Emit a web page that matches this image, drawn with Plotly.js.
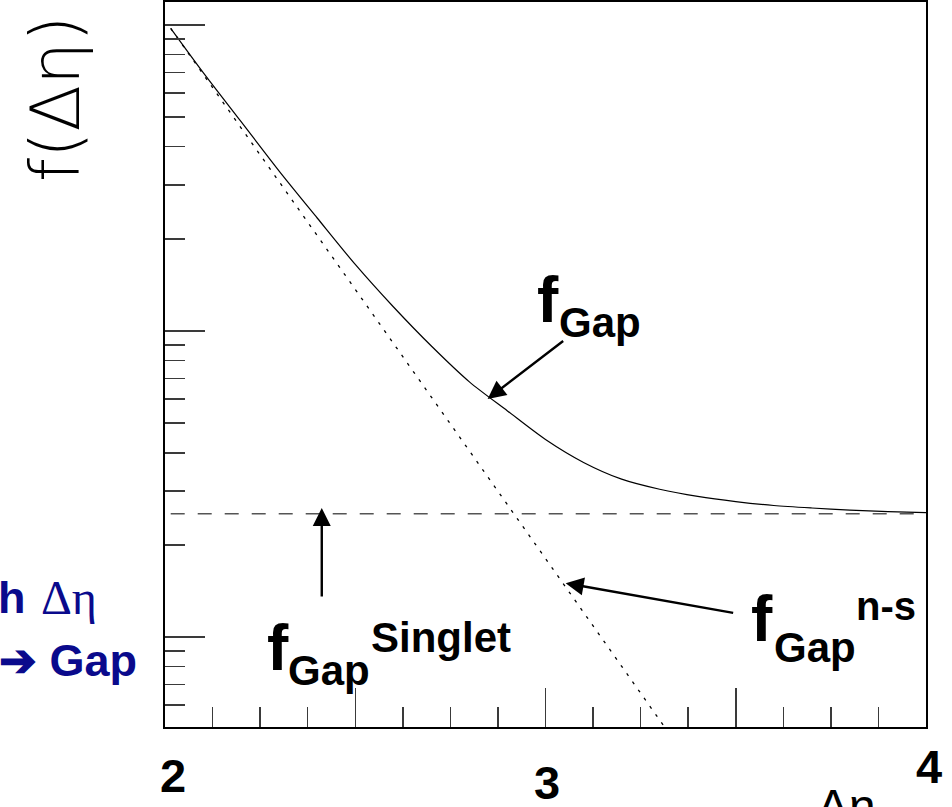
<!DOCTYPE html>
<html>
<head>
<meta charset="utf-8">
<script src="https://cdn.plot.ly/plotly-3.0.1.min.js"></script>
<style>
  html, body { margin: 0; padding: 0; background: #fff; }
  #chart { width: 952px; height: 807px; }
</style>
</head>
<body>
<div id="chart"></div>
<script>
// f_Gap (solid)
const xGap = [2.015, 2.1, 2.2, 2.3, 2.4, 2.5, 2.6, 2.7, 2.8, 2.9, 3.0, 3.1, 3.2, 3.3, 3.4, 3.5, 3.6, 3.7, 3.8, 3.9, 4.0];
const fGap = [0.975, 0.70, 0.483, 0.333, 0.234, 0.165, 0.120, 0.0893, 0.0682, 0.0548, 0.0442, 0.0372, 0.0328, 0.0304, 0.0288, 0.0277, 0.0269, 0.0264, 0.0260, 0.0257, 0.0255];

// f_Gap^n-s (dotted)
const xNs = [2.015, 2.25, 2.5, 2.75, 3.0, 3.313];
const fNs = [0.975, 0.376, 0.137, 0.0497, 0.0180, 0.00508];

// f_Gap^Singlet (dashed)
const xSinglet = [2.015, 4.0];
const fSinglet = [0.0253, 0.0253];

// x tick labels
const xTickVals = [2, 3, 4];
const xTickText = ['2', '3', '4'];

// arrow tips [x, y] for the three labels
const tipGap = [2.848, 0.0600];
const tipSinglet = [2.412, 0.0264];
const tipNs = [3.053, 0.0150];

const W = 952, H = 807;
const M = { l: 165, r: 26, t: 2, b: 80 };
const pw = W - M.l - M.r, ph = H - M.t - M.b;

// place a text by pixel position (left edge / baseline)
function txt(text, x, base, size, opts) {
    opts = opts || {};
    return {
        xref: 'paper', yref: 'paper',
        x: (x - M.l) / pw,
        y: (H - M.b - (base - 0.35 * size)) / ph,
        xanchor: opts.xanchor || 'left', yanchor: 'middle',
        text: text, showarrow: false,
        textangle: opts.angle || 0,
        font: {
            family: opts.family || 'Liberation Sans, Arial, sans-serif',
            size: size,
            color: opts.color || '#000',
            weight: opts.weight || 700
        }
    };
}

function arrow(tip, ax, ay) {
    return {
        x: tip[0], y: Math.log10(tip[1]), xref: 'x', yref: 'y',
        ax: ax, ay: ay, text: '', showarrow: true,
        arrowhead: 2, arrowsize: 1.5, arrowwidth: 2.4, arrowcolor: '#000', standoff: 0
    };
}

const traces = [
    {
        x: xGap, y: fGap, type: 'scatter', mode: 'lines', name: 'f_Gap',
        line: { color: '#000', width: 1.2, shape: 'spline', smoothing: 0.8 }
    },
    {
        x: xNs, y: fNs, type: 'scatter', mode: 'lines', name: 'f_Gap^n-s',
        line: { color: '#000', width: 1.3, dash: '3px,7px' }
    },
    {
        x: xSinglet, y: fSinglet, type: 'scatter', mode: 'lines', name: 'f_Gap^Singlet',
        line: { color: '#555', width: 1.5, dash: '14px,13px' }
    }
];

const blue = '#0a0a8c';

const annotations = [
    // y title, rotated
    {
        xref: 'paper', yref: 'paper', x: (55 - M.l) / pw, y: (H - M.b - 99) / ph,
        xanchor: 'center', yanchor: 'middle', textangle: -90, showarrow: false,
        text: 'f(Δη)',
        font: { family: 'DejaVu Sans, sans-serif', size: 68, color: '#000', weight: 200 }
    },
    // x title, cut at the bottom edge
    txt('Δη', 815, 823, 48, { weight: 400 }),

    // blue text at the left edge
    txt('h', 28, 613, 45, { color: blue, xanchor: 'right' }),
    txt('Δη', 39, 614, 48, { color: blue, weight: 400, family: 'Liberation Serif, serif' }),
    txt('➔ Gap', 139, 676, 45, { color: blue, xanchor: 'right' }),

    // f_Gap
    txt('f', 535, 322, 64),
    txt('Gap', 557, 337, 42),
    // f_Gap^Singlet
    txt('f', 265, 670, 64),
    txt('Gap', 286, 685, 42),
    txt('Singlet', 369, 652, 42),
    // f_Gap^n-s
    txt('f', 749, 641, 64),
    txt('Gap', 772, 662, 42),
    txt('n-s', 854, 620, 40),

    arrow(tipGap, 77, -59),
    arrow(tipSinglet, 0, 90),
    arrow(tipNs, 169, 30)
];

// x tick labels as text under the frame
const xLabBase = [792, 799, 783];
const xLabShift = [8, 1, 3];
xTickVals.forEach((v, i) => {
    annotations.push({
        xref: 'x', yref: 'paper', x: v, y: (H - M.b - (xLabBase[i] - 0.35 * 47)) / ph,
        xshift: xLabShift[i], xanchor: 'center', yanchor: 'middle', showarrow: false,
        text: xTickText[i],
        font: { family: 'Liberation Sans, Arial, sans-serif', size: 47, color: '#000', weight: 700 }
    });
});

const tickStyle = { ticks: 'inside', tickcolor: '#3a3a3a', tickwidth: 1.5 };

const layout = {
    width: W, height: H, autosize: false,
    margin: M,
    paper_bgcolor: '#fff', plot_bgcolor: '#fff',
    showlegend: false,
    xaxis: Object.assign({
        range: [2, 4], tick0: 2, dtick: 0.5, ticklen: 39,
        showticklabels: false, showgrid: false, zeroline: false,
        showline: true, linecolor: '#000', linewidth: 2, mirror: true,
        minor: Object.assign({ dtick: 0.125, ticklen: 20, showgrid: false }, tickStyle)
    }, tickStyle),
    yaxis: Object.assign({
        type: 'log', range: [-2.294, 0.075], dtick: 1, ticklen: 40,
        showticklabels: false, showgrid: false, zeroline: false,
        showline: true, linecolor: '#000', linewidth: 2, mirror: true,
        minor: Object.assign({ dtick: 'D1', ticklen: 20, showgrid: false }, tickStyle)
    }, tickStyle),
    annotations: annotations
};

Plotly.newPlot('chart', traces, layout, { displayModeBar: false, staticPlot: true });
</script>
</body>
</html>
